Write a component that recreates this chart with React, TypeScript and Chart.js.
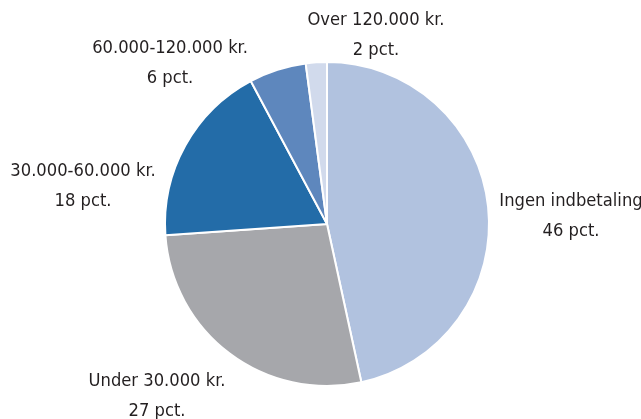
import React, { useEffect, useRef } from "react";
import { Chart, registerables } from "chart.js";

Chart.register(...registerables);

const categories = [
  "Ingen indbetaling",
  "Under 30.000 kr.",
  "30.000-60.000 kr.",
  "60.000-120.000 kr.",
  "Over 120.000 kr.",
];
const shares = [46.6, 27.3, 18.3, 5.7, 2.1];
const shareLabels = ["46 pct.", "27 pct.", "18 pct.", "6 pct.", "2 pct."];
const colors = ["#b1c2df", "#a6a7ab", "#236ca8", "#5e87bd", "#d1daec"];
// label anchor offsets from pie centre (centre of first text line)
const labelOffsets = [
  [244, -23],
  [-170, 157],
  [-244, -53],
  [-157, -176],
  [49, -204],
];

const FONT = '18.2px "DejaVu Sans Condensed", "Liberation Sans Narrow", sans-serif';

const labelPlugin = {
  id: "sliceLabels",
  afterDraw(chart: any) {
    const arc = chart.getDatasetMeta(0).data[0];
    if (!arc) return;
    const { x, y } = arc;
    const ctx = chart.ctx;
    ctx.save();
    ctx.font = FONT;
    ctx.fillStyle = "#231f20";
    ctx.textAlign = "center";
    ctx.textBaseline = "middle";
    categories.forEach((c, i) => {
      const [dx, dy] = labelOffsets[i];
      ctx.fillText(c, x + dx, y + dy);
      ctx.fillText(shareLabels[i], x + dx, y + dy + 30);
    });
    ctx.restore();
  },
};

export default function App() {
  const ref = useRef<HTMLCanvasElement>(null);
  useEffect(() => {
    document.body.style.margin = "0";
    const chart = new Chart(ref.current!, {
      type: "pie",
      data: {
        labels: categories,
        datasets: [
          {
            data: shares,
            backgroundColor: colors,
            borderColor: "#ffffff",
            borderWidth: 2,
            hoverOffset: 0,
          },
        ],
      },
      options: {
        responsive: false,
        animation: false,
        layout: { padding: { left: 164, right: 151, top: 61, bottom: 32 } },
        plugins: {
          legend: { display: false },
          tooltip: { enabled: false },
        },
      },
      plugins: [labelPlugin],
    });
    return () => chart.destroy();
  }, []);
  return (
    <div style={{ width: 641, height: 419, background: "#fff" }}>
      <canvas ref={ref} width={641} height={419} />
    </div>
  );
}
